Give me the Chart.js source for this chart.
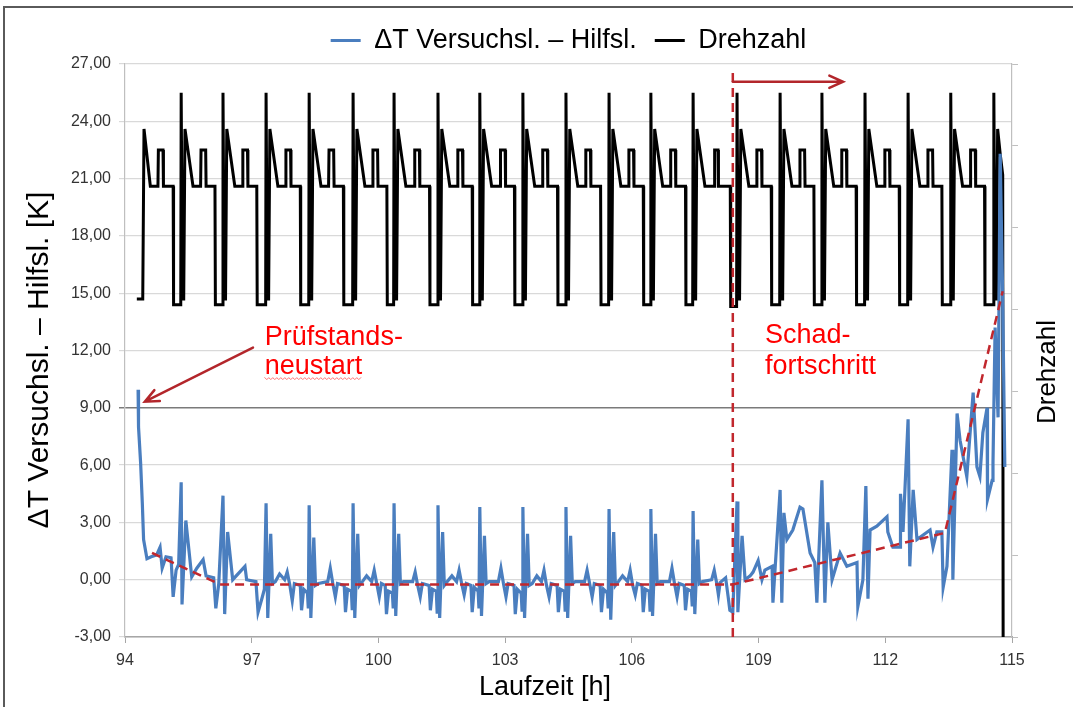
<!DOCTYPE html>
<html>
  <head>
    <meta charset="utf-8">
    <script src="https://cdn.jsdelivr.net/npm/chart.js@4"></script>
    <style>
      body { margin: 0; background: #fff; }
      #wrap { width: 1073px; height: 707px; }
    </style>
  </head>
  <body>
    <div id="wrap"><canvas id="canvas"></canvas></div>
    <script>
      const FONT = '"Liberation Sans", Arial, sans-serif';

      const xTicks = [94, 97, 100, 103, 106, 109, 112, 115];
      const yTicks = [-3, 0, 3, 6, 9, 12, 15, 18, 21, 24, 27];
      // right axis (Drehzahl) has unlabelled tick marks only
      const rightTicks = [-3, 1.29, 5.57, 9.86, 14.14, 18.43, 22.71, 27];

      // ΔT Versuchsl. – Hilfsl. [K] over Laufzeit [h]
      const deltaT = [
        [94.31, 9.95], [94.32, 8.0], [94.37, 6.1], [94.41, 4.0], [94.44, 2.1], [94.52, 1.1], [94.62, 1.2], [94.75, 1.3],
        [94.83, 1.7], [94.88, 0.6], [94.97, 1.2], [95.09, 1.15], [95.14, -0.9], [95.21, 0.5], [95.27, 0.8],
        [95.33, 5.1], [95.35, -1.3], [95.44, 3.1], [95.58, 0.15], [95.7, 0.6], [95.85, 1.05], [95.92, 0.2], [96.1, 0.1], [96.15, -1.5], [96.22, -0.2],
        [96.32, 4.4], [96.36, -1.8], [96.43, 2.5], [96.55, 0.0], [96.84, 0.7], [96.88, 0.0], [97.1, -0.1], [97.15, -1.7], [97.24, -1.0], [97.3, -0.5],
        [97.34, 4.0], [97.38, -2.0], [97.45, 2.4], [97.49, -0.2], [97.56, -0.1], [97.66, 0.3], [97.78, 0.0], [97.84, 0.4], [97.9, -0.25], [97.96, -1.1], [98.01, -0.2],
        [98.15, -0.3], [98.18, -1.6], [98.23, -0.5], [98.32, -0.7], [98.34, -1.5],
        [98.36, 3.9], [98.4, -2.0], [98.47, 2.2], [98.51, -0.3], [98.58, -0.2], [98.8, -0.1], [98.86, 0.6], [98.92, -0.2], [98.98, -0.9], [99.03, -0.2],
        [99.19, -0.3], [99.22, -1.7], [99.27, -0.5], [99.36, -0.6], [99.38, -1.6],
        [99.4, 4.0], [99.44, -2.0], [99.51, 2.4], [99.55, -0.3], [99.62, -0.1], [99.72, 0.2], [99.84, -0.1], [99.9, 0.5], [99.96, -0.2], [100.02, -0.9], [100.07, -0.2],
        [100.16, -0.3], [100.19, -1.8], [100.24, -0.6], [100.33, -0.7], [100.35, -1.5],
        [100.37, 4.0], [100.41, -1.9], [100.48, 2.4], [100.52, -0.2], [100.59, -0.1], [100.81, -0.1], [100.87, 0.4], [100.93, -0.3], [100.99, -0.9], [101.04, -0.2],
        [101.2, -0.3], [101.23, -1.6], [101.28, -0.5], [101.37, -0.6], [101.39, -1.7],
        [101.41, 3.9], [101.45, -2.0], [101.52, 2.5], [101.56, -0.3], [101.63, -0.1], [101.74, 0.2], [101.85, -0.1], [101.91, 0.5], [101.97, -0.2], [102.03, -0.8], [102.08, -0.2],
        [102.19, -0.3], [102.22, -1.7], [102.27, -0.4], [102.36, -0.6], [102.38, -1.5],
        [102.4, 3.8], [102.44, -1.9], [102.51, 2.3], [102.55, -0.2], [102.62, -0.1], [102.84, -0.1], [102.9, 0.6], [102.96, -0.2], [103.02, -0.9], [103.07, -0.2],
        [103.21, -0.3], [103.24, -1.8], [103.29, -0.5], [103.38, -0.7], [103.4, -1.6],
        [103.42, 3.8], [103.46, -2.0], [103.53, 2.4], [103.57, -0.3], [103.64, -0.2], [103.75, 0.2], [103.86, -0.1], [103.92, 0.5], [103.98, -0.3], [104.04, -0.9], [104.09, -0.2],
        [104.23, -0.3], [104.26, -1.7], [104.31, -0.5], [104.4, -0.6], [104.42, -1.6],
        [104.44, 3.8], [104.48, -2.0], [104.55, 2.3], [104.59, -0.2], [104.66, -0.1], [104.88, -0.1], [104.94, 0.5], [105.0, -0.2], [105.06, -0.9], [105.11, -0.2],
        [105.25, -0.3], [105.28, -1.7], [105.33, -0.5], [105.42, -0.7], [105.44, -1.5],
        [105.46, 3.7], [105.5, -2.1], [105.57, 2.5], [105.61, -0.3], [105.68, -0.1], [105.78, 0.2], [105.9, -0.1], [105.96, 0.5], [106.02, -0.3], [106.08, -0.8], [106.13, -0.2],
        [106.24, -0.3], [106.27, -1.7], [106.32, -0.5], [106.41, -0.6], [106.43, -1.6],
        [106.45, 3.7], [106.49, -1.9], [106.56, 2.4], [106.6, -0.2], [106.67, -0.1], [106.89, -0.1], [106.95, 0.6], [107.01, -0.2], [107.07, -0.9], [107.12, -0.2],
        [107.24, -0.3], [107.27, -1.6], [107.32, -0.5], [107.41, -0.6], [107.43, -1.4],
        [107.45, 3.6], [107.49, -1.8], [107.56, 2.1], [107.6, -0.2], [107.67, -0.1], [107.89, 0.0], [107.95, 0.5], [108.01, -0.2], [108.05, -0.8], [108.09, -0.15],
        [108.22, 0.1], [108.28, -0.9], [108.32, -1.6], [108.39, -1.7],
        [108.49, 4.1], [108.51, -1.7], [108.61, 2.3], [108.68, 0.0], [108.8, 0.2], [108.87, 0.4], [108.99, 1.0], [109.08, 0.0], [109.15, 0.5], [109.32, 0.7], [109.34, -1.2],
        [109.51, 4.7], [109.55, -1.2], [109.6, 3.5], [109.67, 2.1], [109.81, 2.6], [109.98, 3.8], [110.05, 3.7], [110.22, 1.4], [110.33, 0.9], [110.38, -1.2],
        [110.5, 5.2], [110.57, -1.2], [110.64, 3.0], [110.74, 0.0], [110.93, 1.4], [111.09, 0.7], [111.33, 0.9], [111.35, -1.4], [111.47, 0.0],
        [111.54, 4.9], [111.59, -1.0], [111.64, 2.6], [111.8, 2.8], [112.04, 3.3], [112.06, 2.5], [112.18, 1.7], [112.35, 1.7], [112.36, 4.5], [112.42, 2.5],
        [112.54, 8.4], [112.58, 0.7], [112.66, 4.7], [112.75, 2.1], [113.06, 2.6], [113.13, 1.7], [113.22, 2.5], [113.34, 2.5], [113.37, -0.4], [113.46, 0.7],
        [113.58, 6.8], [113.6, 0.0], [113.7, 8.7], [113.77, 7.3], [113.93, 5.4], [114.08, 9.8], [114.17, 5.9], [114.24, 5.4], [114.31, 7.7],
        [114.41, 9.0], [114.42, 4.2], [114.53, 5.2], [114.55, 6.1], [114.6, 13.2], [114.67, 8.5], [114.72, 22.3], [114.78, 14.7], [114.83, 5.9]
      ];

      // Drehzahl, drawn against the unlabelled right axis
      const drehzahl = [
        [94.28, 14.7], [94.42, 14.7], [94.45, 23.6], [94.6, 20.6], [94.78, 20.6], [94.79, 22.5], [94.9, 22.5], [94.91, 20.6], [95.14, 20.6], [95.15, 14.4],
        [95.32, 14.4], [95.33, 25.5], [95.36, 14.7], [95.39, 14.7], [95.42, 23.6], [95.61, 20.6], [95.79, 20.6], [95.8, 22.5], [95.91, 22.5], [95.92, 20.6], [96.13, 20.6], [96.14, 14.4],
        [96.31, 14.4], [96.32, 25.5], [96.35, 14.7], [96.38, 14.7], [96.41, 23.6], [96.6, 20.6], [96.78, 20.6], [96.79, 22.5], [96.9, 22.5], [96.91, 20.6], [97.12, 20.6], [97.13, 14.4],
        [97.33, 14.4], [97.34, 25.5], [97.37, 14.7], [97.4, 14.7], [97.43, 23.6], [97.62, 20.6], [97.8, 20.6], [97.81, 22.5], [97.92, 22.5], [97.93, 20.6], [98.15, 20.6], [98.16, 14.4],
        [98.35, 14.4], [98.36, 25.5], [98.39, 14.7], [98.42, 14.7], [98.45, 23.6], [98.64, 20.6], [98.82, 20.6], [98.83, 22.5], [98.94, 22.5], [98.95, 20.6], [99.17, 20.6], [99.18, 14.4],
        [99.39, 14.4], [99.4, 25.5], [99.43, 14.7], [99.46, 14.7], [99.49, 23.6], [99.68, 20.6], [99.86, 20.6], [99.87, 22.5], [99.98, 22.5], [99.99, 20.6], [100.2, 20.6], [100.21, 14.4],
        [100.36, 14.4], [100.37, 25.5], [100.4, 14.7], [100.43, 14.7], [100.46, 23.6], [100.65, 20.6], [100.85, 20.6], [100.86, 22.5], [100.97, 22.5], [100.98, 20.6], [101.21, 20.6], [101.22, 14.4],
        [101.4, 14.4], [101.41, 25.5], [101.44, 14.7], [101.47, 14.7], [101.5, 23.6], [101.69, 20.6], [101.87, 20.6], [101.88, 22.5], [101.99, 22.5], [102.0, 20.6], [102.22, 20.6], [102.23, 14.4],
        [102.39, 14.4], [102.4, 25.5], [102.43, 14.7], [102.46, 14.7], [102.49, 23.6], [102.68, 20.6], [102.88, 20.6], [102.89, 22.5], [103.0, 22.5], [103.01, 20.6], [103.22, 20.6], [103.23, 14.4],
        [103.41, 14.4], [103.42, 25.5], [103.45, 14.7], [103.48, 14.7], [103.51, 23.6], [103.7, 20.6], [103.88, 20.6], [103.89, 22.5], [104.0, 22.5], [104.01, 20.6], [104.24, 20.6], [104.25, 14.4],
        [104.43, 14.4], [104.44, 25.5], [104.47, 14.7], [104.5, 14.7], [104.53, 23.6], [104.72, 20.6], [104.9, 20.6], [104.91, 22.5], [105.02, 22.5], [105.03, 20.6], [105.26, 20.6], [105.27, 14.4],
        [105.45, 14.4], [105.46, 25.5], [105.49, 14.7], [105.52, 14.7], [105.55, 23.6], [105.74, 20.6], [105.92, 20.6], [105.93, 22.5], [106.04, 22.5], [106.05, 20.6], [106.27, 20.6], [106.28, 14.4],
        [106.44, 14.4], [106.45, 25.5], [106.48, 14.7], [106.51, 14.7], [106.54, 23.6], [106.73, 20.6], [106.91, 20.6], [106.92, 22.5], [107.03, 22.5], [107.04, 20.6], [107.27, 20.6], [107.28, 14.4],
        [107.44, 14.4], [107.45, 25.5], [107.48, 14.7], [107.51, 14.7], [107.54, 23.6], [107.73, 20.6], [107.95, 20.6], [107.96, 22.5], [108.04, 22.5], [108.05, 20.6], [108.33, 20.6], [108.34, 14.3],
        [108.48, 14.3], [108.49, 25.5], [108.52, 14.7], [108.55, 14.7], [108.58, 23.6], [108.77, 20.6], [108.95, 20.6], [108.96, 22.5], [109.07, 22.5], [109.08, 20.6], [109.3, 20.6], [109.31, 14.4],
        [109.5, 14.4], [109.51, 25.5], [109.54, 14.7], [109.57, 14.7], [109.6, 23.6], [109.79, 20.6], [109.97, 20.6], [109.98, 22.5], [110.09, 22.5], [110.1, 20.6], [110.31, 20.6], [110.32, 14.4],
        [110.49, 14.4], [110.5, 25.5], [110.53, 14.7], [110.56, 14.7], [110.59, 23.6], [110.78, 20.6], [110.96, 20.6], [110.97, 22.5], [111.08, 22.5], [111.09, 20.6], [111.31, 20.6], [111.32, 14.4],
        [111.51, 14.4], [111.52, 25.5], [111.55, 14.7], [111.58, 14.7], [111.61, 23.6], [111.8, 20.6], [111.98, 20.6], [111.99, 22.5], [112.1, 22.5], [112.11, 20.6], [112.33, 20.6], [112.34, 14.4],
        [112.53, 14.4], [112.54, 25.5], [112.57, 14.7], [112.6, 14.7], [112.63, 23.6], [112.82, 20.6], [113.0, 20.6], [113.01, 22.5], [113.12, 22.5], [113.13, 20.6], [113.34, 20.6], [113.35, 14.4],
        [113.54, 14.4], [113.55, 25.5], [113.58, 14.7], [113.61, 14.7], [113.64, 23.6], [113.83, 20.6], [114.01, 20.6], [114.02, 22.5], [114.13, 22.5], [114.14, 20.6], [114.35, 20.6], [114.36, 14.4],
        [114.56, 14.4], [114.57, 25.5], [114.6, 14.7], [114.63, 14.7], [114.66, 23.6], [114.72, 22.3], [114.78, 21.2], [114.79, -3.0]
      ];

      // red dashed trend and the start of the damage progression
      const trend = [[94.64, 1.4], [96.25, -0.25], [108.39, -0.25], [113.41, 2.45], [114.78, 15.1]];
      const schadBeginn = [[108.39, -3], [108.39, 26.7]];

      const toXY = (pts) => pts.map(([x, y]) => ({ x, y }));

      function arrow(ctx, x1, y1, x2, y2) {
        const a = Math.atan2(y2 - y1, x2 - x1);
        const h = 15;
        ctx.beginPath();
        ctx.moveTo(x1, y1);
        ctx.lineTo(x2, y2);
        ctx.moveTo(x2 - h * Math.cos(a - 0.42), y2 - h * Math.sin(a - 0.42));
        ctx.lineTo(x2, y2);
        ctx.lineTo(x2 - h * Math.cos(a + 0.42), y2 - h * Math.sin(a + 0.42));
        ctx.stroke();
      }

      const annotations = {
        id: 'annotations',
        afterDatasetsDraw(chart) {
          const { ctx, scales: { x, y } } = chart;
          const px = (v) => x.getPixelForValue(v);
          const py = (v) => y.getPixelForValue(v);
          ctx.save();
          ctx.strokeStyle = '#b3262b';
          ctx.lineWidth = 2.5;
          ctx.lineCap = 'round';
          arrow(ctx, px(97.03), py(12.15), px(94.47), py(9.32));
          arrow(ctx, px(108.39), py(26.07), px(111.0), py(26.07));

          ctx.fillStyle = '#ff0000';
          ctx.font = '27px ' + FONT;
          ctx.textAlign = 'left';
          ctx.textBaseline = 'alphabetic';
          ctx.fillText('Prüfstands-', px(97.31), py(12.3));
          ctx.fillText('neustart', px(97.31), py(10.79));
          ctx.fillText('Schad-', px(109.15), py(12.41));
          ctx.fillText('fortschritt', px(109.15), py(10.79));

          // spell-check squiggle under "neustart"
          const x0 = px(97.31);
          const w = ctx.measureText('neustart').width;
          const yb = py(10.79) + 4;
          ctx.strokeStyle = '#ff7070';
          ctx.lineWidth = 1;
          ctx.beginPath();
          for (let i = 0; i <= w; i += 2) {
            const yy = yb + ((i / 2) % 2 === 0 ? 0 : 2);
            if (i === 0) ctx.moveTo(x0 + i, yy); else ctx.lineTo(x0 + i, yy);
          }
          ctx.stroke();
          ctx.restore();
        },
        afterDraw(chart) {
          const { ctx } = chart;
          ctx.save();
          ctx.fillStyle = '#000';
          ctx.textAlign = 'center';
          ctx.textBaseline = 'middle';
          ctx.font = '27px ' + FONT;
          ctx.fillText('Laufzeit [h]', 545, 688);

          ctx.save();
          ctx.translate(40, 360);
          ctx.rotate(-Math.PI / 2);
          ctx.font = '30px ' + FONT;
          ctx.fillText('ΔT Versuchsl. – Hilfsl. [K]', 0, 0);
          ctx.restore();

          ctx.save();
          ctx.translate(1048, 372);
          ctx.rotate(-Math.PI / 2);
          ctx.font = '26px ' + FONT;
          ctx.fillText('Drehzahl', 0, 0);
          ctx.restore();

          // outer frame (top and left edge visible)
          ctx.strokeStyle = '#5a5a5a';
          ctx.lineWidth = 2;
          ctx.beginPath();
          ctx.moveTo(1073, 7);
          ctx.lineTo(4, 7);
          ctx.lineTo(4, 707);
          ctx.stroke();
          ctx.restore();
        }
      };

      const tickFont = { family: FONT, size: 16 };

      new Chart(document.getElementById('canvas'), {
        type: 'line',
        data: {
          datasets: [
            {
              label: 'ΔT Versuchsl. – Hilfsl.',
              data: toXY(deltaT),
              borderColor: '#4a7ebf',
              backgroundColor: '#4a7ebf',
              borderWidth: 3.2,
              yAxisID: 'y',
              order: 2,
            },
            {
              label: 'Drehzahl',
              data: toXY(drehzahl),
              borderColor: '#000000',
              backgroundColor: '#000000',
              borderWidth: 3,
              yAxisID: 'y1',
              order: 3,
            },
            {
              label: 'Trend',
              data: toXY(trend),
              borderColor: '#c1272d',
              borderWidth: 2.5,
              borderDash: [9, 6],
              yAxisID: 'y',
              order: 1,
            },
            {
              label: 'Schadensbeginn',
              data: toXY(schadBeginn),
              borderColor: '#c1272d',
              borderWidth: 2.5,
              borderDash: [9, 6],
              yAxisID: 'y',
              order: 1,
            },
          ],
        },
        options: {
          responsive: true,
          maintainAspectRatio: false,
          animation: false,
          layout: { padding: { left: 4, right: 12, top: 1, bottom: 0 } },
          elements: {
            point: { radius: 0, hoverRadius: 0 },
            line: { tension: 0, fill: false },
          },
          plugins: {
            tooltip: { enabled: false },
            legend: {
              position: 'top',
              fullSize: false,
              labels: {
                color: '#000',
                font: { family: FONT, size: 27 },
                boxWidth: 30,
                boxHeight: 3,
                padding: 18,
                generateLabels(chart) {
                  return Chart.defaults.plugins.legend.labels.generateLabels(chart)
                    .filter((l) => l.datasetIndex < 2)
                    .map((l) => Object.assign(l, { fillStyle: l.strokeStyle, lineWidth: 0, lineDash: [] }));
                },
              },
            },
          },
          scales: {
            x: {
              type: 'linear',
              min: 94,
              max: 115,
              afterBuildTicks: (s) => { s.ticks = xTicks.map((v) => ({ value: v })); },
              afterFit: (s) => { s.height = 70; },
              ticks: { color: '#333', font: tickFont, padding: 8, maxRotation: 0, autoSkip: false },
              grid: { drawOnChartArea: false, tickLength: 6, tickColor: '#a6a6a6' },
              border: { color: '#a6a6a6', width: 1.5 },
            },
            y: {
              position: 'left',
              min: -3,
              max: 27,
              afterBuildTicks: (s) => { s.ticks = yTicks.map((v) => ({ value: v })); },
              // fixed width, and keep the plot top below the legend
              afterFit: (s) => { s.width = 121; s.paddingTop = 64; },
              ticks: {
                color: '#333',
                font: tickFont,
                padding: 8,
                callback: (v) => Number(v).toFixed(2).replace('.', ','),
              },
              grid: {
                color: (c) => (c.tick && c.tick.value === 9 ? '#7a7a7a' : '#d9d9d9'),
                lineWidth: (c) => (c.tick && c.tick.value === 9 ? 1.5 : 1.2),
                tickLength: 6,
              },
              border: { color: '#bfbfbf', width: 1.2 },
            },
            y1: {
              position: 'right',
              min: -3,
              max: 27,
              afterBuildTicks: (s) => { s.ticks = rightTicks.map((v) => ({ value: v })); },
              afterFit: (s) => { s.width = 49; },
              ticks: { callback: () => '', padding: 0 },
              grid: { drawOnChartArea: false, tickLength: 6, tickColor: '#bfbfbf' },
              border: { color: '#bfbfbf', width: 1.2 },
            },
          },
        },
        plugins: [annotations],
      });
    </script>
  </body>
</html>
